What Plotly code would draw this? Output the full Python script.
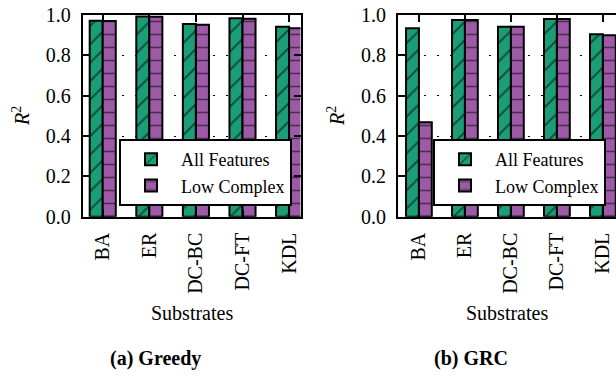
import plotly.graph_objects as go

substrates = ["BA", "ER", "DC-BC", "DC-FT", "KDL"]
greedy_all = [0.972, 0.992, 0.955, 0.984, 0.942]
greedy_low = [0.970, 0.991, 0.952, 0.982, 0.934]
grc_all = [0.934, 0.975, 0.942, 0.980, 0.904]
grc_low = [0.468, 0.975, 0.942, 0.980, 0.900]
series_names = ["All Features", "Low Complex"]
ytick_vals = [0.0, 0.2, 0.4, 0.6, 0.8, 1.0]

GREEN = "#1b9e77"
PURPLE = "#9d5ba7"
FONT = "Liberation Serif, Times New Roman, Tinos, serif"
W, H = 616, 377


def fx(x):
    return x / W


def fy(y):
    return 1 - y / H


fig = go.Figure()


def add_pair(vals_a, vals_b, xa, ya, leg):
    fig.add_trace(go.Bar(
        x=substrates, y=vals_a, name=series_names[0], xaxis=xa, yaxis=ya,
        legend=leg,
        marker=dict(color=GREEN, line=dict(color="black", width=2),
                    pattern=dict(shape="/", fgcolor="black", size=13, solidity=0.15)),
    ))
    fig.add_trace(go.Bar(
        x=substrates, y=vals_b, name=series_names[1], xaxis=xa, yaxis=ya,
        legend=leg,
        marker=dict(color=PURPLE, line=dict(color="black", width=2),
                    pattern=dict(shape="-", fgcolor="black", size=13, solidity=0.12)),
    ))


add_pair(greedy_all, greedy_low, "x", "y", "legend")
add_pair(grc_all, grc_low, "x2", "y2", "legend2")

ydom = [fy(216.7), fy(15)]
xcommon = dict(
    type="category", showline=True, linecolor="black", linewidth=2,
    ticks="inside", ticklen=7, tickwidth=1.5, tickcolor="black",
    tickangle=-90, tickfont=dict(family=FONT, size=20, color="black"),
    showgrid=False, zeroline=False, automargin=False, ticklabelstandoff=6,
)
ycommon = dict(
    range=[0, 1], tickvals=ytick_vals, tickformat=".1f",
    showline=True, linecolor="black", linewidth=2,
    ticks="inside", ticklen=7, tickwidth=1.5, tickcolor="black",
    tickfont=dict(family=FONT, size=20, color="black"),
    showgrid=True, gridcolor="black", gridwidth=1, griddash="2px,11px",
    zeroline=False, automargin=False, domain=ydom, ticklabelstandoff=6,
    ticklabeloverflow="allow",
)

legcommon = dict(
    xanchor="right", y=fy(206), yanchor="bottom",
    bgcolor="white", bordercolor="black", borderwidth=2,
    font=dict(family=FONT, size=18, color="black"), itemwidth=50,
    tracegroupgap=0,
)

fig.update_layout(
    width=W, height=H,
    margin=dict(l=0, r=0, t=0, b=0, autoexpand=False),
    paper_bgcolor="white", plot_bgcolor="white",
    barmode="group", bargap=0.44, bargroupgap=0.0,
    font=dict(family=FONT, size=18, color="black"),
    xaxis=dict(domain=[fx(82.7), fx(300.5)], range=[-0.43, 4.245], mirror="ticks", **xcommon),
    xaxis2=dict(domain=[fx(398), fx(616)], range=[-0.455, 4.285], mirror="ticks", anchor="y2", **xcommon),
    yaxis=dict(anchor="x", mirror="ticks", **ycommon),
    yaxis2=dict(anchor="x2", mirror=False, **ycommon),
    legend=dict(x=fx(292), **legcommon),
    legend2=dict(x=fx(606), **legcommon),
    showlegend=True,
    hovermode=False,
)


def px_ann(text, x, y, size, angle=0, bold=False):
    fig.add_annotation(
        text=f"<b>{text}</b>" if bold else text,
        x=fx(x), y=fy(y), xref="paper", yref="paper",
        showarrow=False, textangle=angle, xanchor="center", yanchor="middle",
        font=dict(family=FONT, size=size, color="black"),
    )


px_ann("<i>R</i><sup>2</sup>", 21, 116, 20, angle=-90)
px_ann("<i>R</i><sup>2</sup>", 336, 116, 20, angle=-90)
px_ann("Substrates", 191.7, 313, 20)
px_ann("Substrates", 507, 313, 20)
px_ann("(a) Greedy", 156, 358, 20, bold=True)
px_ann("(b) GRC", 471, 358, 20, bold=True)

fig.write_html(
    "out.html",
    config={"displayModeBar": False},
    post_script="document.body.style.margin='0';document.body.style.overflow='hidden';",
)
